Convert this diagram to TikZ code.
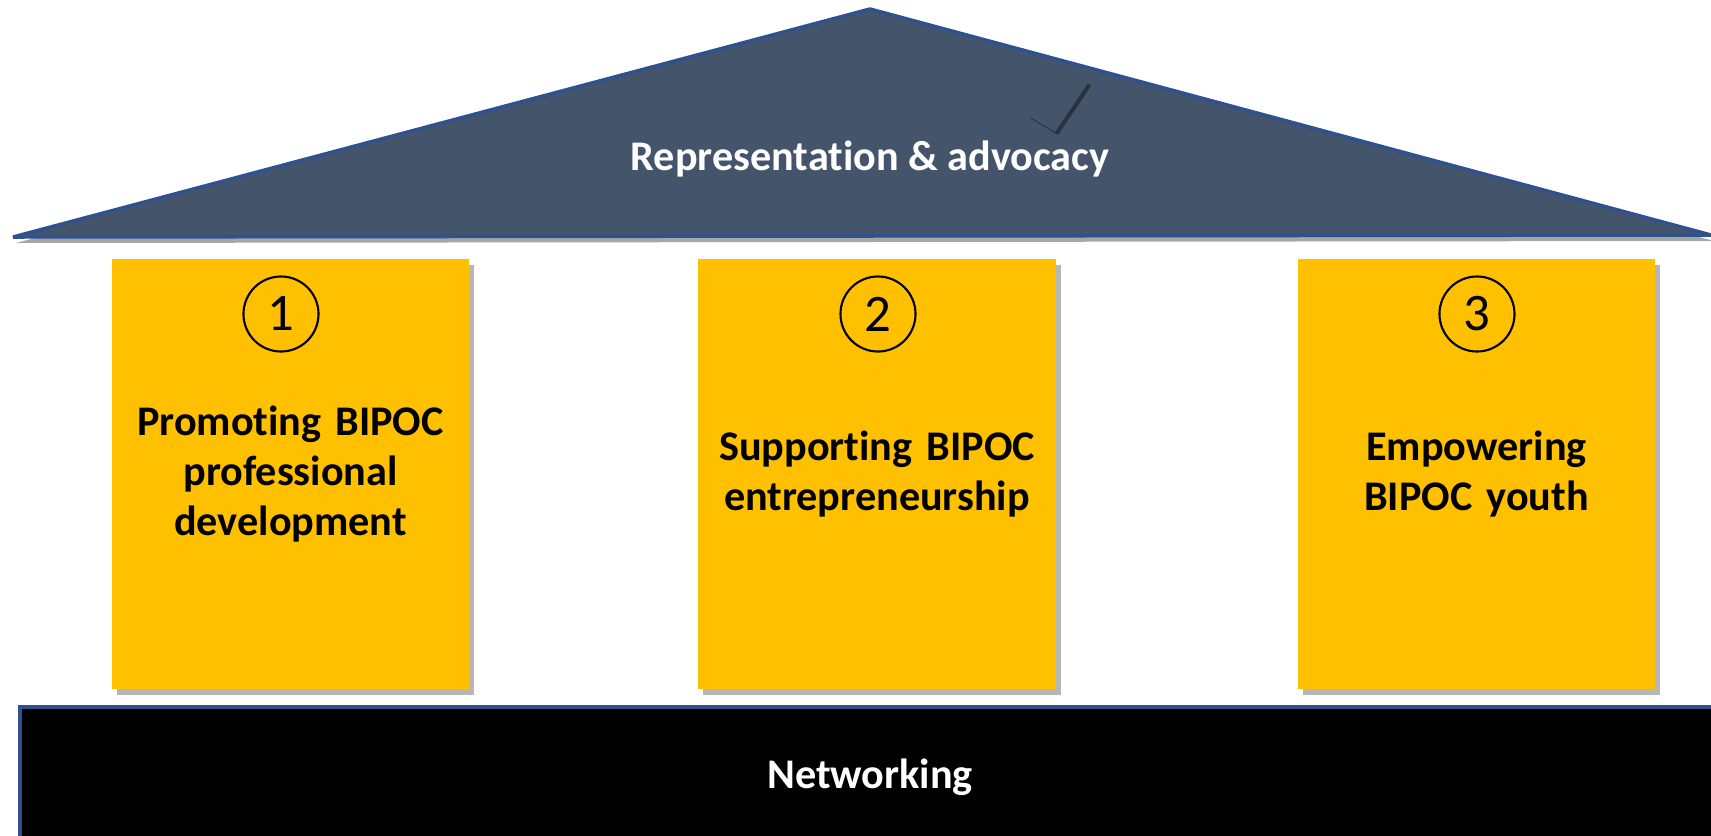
\documentclass[tikz,border=0pt]{standalone}
\usepackage{fontspec}
\setmainfont{Carlito}[Ligatures=NoCommon]
\usepackage{tikz}
\usetikzlibrary{shadows}
\definecolor{roofgray}{HTML}{44546A}
\definecolor{pillargold}{HTML}{FFC000}
\definecolor{edgeblue}{HTML}{2F528F}
\tikzstyle{Roof}=[fill=roofgray, draw=edgeblue, line width=1pt, line join=bevel, drop shadow={shadow xshift=0.03cm, shadow yshift=-0.06cm, opacity=0.35, fill=black}]
\tikzstyle{Pillar}=[rectangle, fill=pillargold, minimum width=3.57cm, minimum height=4.3cm, text width=3.2cm, align=center, font=\bfseries\fontsize{12}{14.2}\selectfont, drop shadow={shadow xshift=0.05cm, shadow yshift=-0.06cm, opacity=0.4, fill=black!70}]
\tikzstyle{Num}=[circle, draw=black, line width=0.6pt, minimum size=0.75cm, inner sep=0pt, font=\fontsize{15}{18}\selectfont]
\tikzstyle{Label}=[text=white, font=\bfseries\fontsize{12}{14.2}\selectfont]

\begin{document}
\begin{tikzpicture}[x=0.01cm, y=-0.01cm]
    \useasboundingbox (0,0) rectangle (1711,836);
    % roof and its little fold
    \filldraw[Roof] (13,237) -- (870,9) -- (1711,235) -- cycle;
    \fill[roofgray, drop shadow={shadow xshift=0.03cm, shadow yshift=-0.03cm, opacity=0.4, fill=black}]
        (1063,63) -- (1088,83) -- (1055,132) -- (1027,115) -- cycle;
    % base
    \filldraw[fill=black, draw=edgeblue, line width=1pt] (20,707) rectangle (1730,850);

    \path
    (870,159) node[Label] (adv) {Representation \& advocacy}
    (870,777) node[Label] (net) {Networking}
    (290.5,474) node[Pillar] (p1) {Promoting BIPOC\\professional\\development}
    (877,474) node[Pillar] (p2) {Supporting BIPOC\\entrepreneurship}
    (1476.5,474) node[Pillar] (p3) {Empowering\\BIPOC youth};

    \path
    (281,314) node[Num] (n1) {1}
    (878,314) node[Num] (n2) {2}
    (1477,314) node[Num] (n3) {3};
\end{tikzpicture}
\end{document}
